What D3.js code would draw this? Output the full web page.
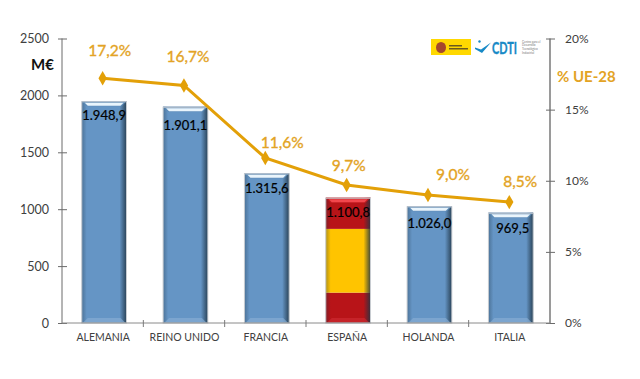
<!DOCTYPE html>
<html>
<head>
<meta charset="utf-8">
<script src="https://cdn.jsdelivr.net/npm/d3@7"></script>
<style>
  html, body { margin: 0; padding: 0; background: #fff; }
  svg { display: block; }
  text { font-family: Lato, "Open Sans", sans-serif; }
</style>
</head>
<body>
<div id="chart"></div>
<script>
// Data
const countries = ["ALEMANIA", "REINO UNIDO", "FRANCIA", "ESPAÑA", "HOLANDA", "ITALIA"];
const millions = [1948.9, 1901.1, 1315.6, 1100.8, 1026.0, 969.5];
const shares = [17.2, 16.7, 11.6, 9.7, 9.0, 8.5];
const millionLabels = ["1.948,9", "1.901,1", "1.315,6", "1.100,8", "1.026,0", "969,5"];
const shareLabels = ["17,2%", "16,7%", "11,6%", "9,7%", "9,0%", "8,5%"];
const leftTicks = [0, 500, 1000, 1500, 2000, 2500];
const rightTicks = [0, 5, 10, 15, 20];
// Spain's bar is painted as the flag, these are the band edges in M€
const spainBands = [267, 827, 1100.8];

// Hand placed label offsets
const shareNudge = [[7, -22], [4, -23], [17, -10], [2, -14], [25, -15], [11, -15]];
const millionNudge = [[0, 19], [0, 23], [0, 20], [0, 19], [0, 22], [2, 20]];

const width = 640, height = 379;
const plotLeft = 62, plotRight = 550, plotTop = 38.5, plotBottom = 323;

const svg = d3.select("#chart").append("svg")
    .attr("width", width)
    .attr("height", height);

const x = d3.scaleBand().domain(countries).range([plotLeft, plotRight])
    .paddingInner(0.45).paddingOuter(0.225).align(0.54);
const y = d3.scaleLinear().domain([0, 2500]).range([plotBottom, plotTop]);
const yShare = d3.scaleLinear().domain([0, 20]).range([plotBottom, plotTop]);

// Gradients for the bevel
const defs = svg.append("defs");
function edgeGradient(id, stops) {
    defs.append("linearGradient").attr("id", id)
        .selectAll("stop").data(stops).join("stop")
        .attr("offset", d => d[0])
        .attr("stop-color", d => d[1])
        .attr("stop-opacity", d => d[2]);
}
edgeGradient("edge-right", [[0, "#1f3444", 0], [1, "#1f3444", 0.85]]);
edgeGradient("edge-left", [[0, "#1f3444", 0.35], [1, "#1f3444", 0]]);

function bevel(g, bx, by, w, h, light, shine, rim) {
    g.append("rect").attr("x", bx).attr("y", by).attr("width", 5).attr("height", h)
        .attr("fill", "url(#edge-left)");
    g.append("rect").attr("x", bx + w - 7).attr("y", by).attr("width", 7).attr("height", h)
        .attr("fill", "url(#edge-right)");
    // top shine and bottom reflection
    g.append("path")
        .attr("d", `M${bx},${by}H${bx + w}L${bx + w - 5},${by + 5}H${bx + 5}Z`)
        .attr("fill", rim);
    g.append("path")
        .attr("d", `M${bx + 3},${by + 1.5}H${bx + w - 3}L${bx + w - 6},${by + 4.5}H${bx + 6}Z`)
        .attr("fill", shine);
    g.append("path")
        .attr("d", `M${bx + 1},${plotBottom}H${bx + w - 1}L${bx + w - 6},${plotBottom - 5}H${bx + 6}Z`)
        .attr("fill", light).attr("opacity", 0.7);
    // outer halo
    g.append("rect").attr("x", bx).attr("y", by + 0.5).attr("width", w).attr("height", h - 0.5)
        .attr("fill", "none").attr("stroke", "#c8ccd1").attr("stroke-width", 1);
}

// Bars
const bars = svg.append("g");
countries.forEach((c, i) => {
    const bx = x(c), w = x.bandwidth(), by = y(millions[i]);
    const g = bars.append("g");
    if (c === "ESPAÑA") {
        const colors = ["#b81418", "#ffc400", "#b81418"];
        spainBands.forEach((v, j) => {
            const y0 = y(j ? spainBands[j - 1] : 0);
            g.append("rect").attr("x", bx).attr("y", y(v)).attr("width", w)
                .attr("height", y0 - y(v)).attr("fill", colors[j]);
        });
        bevel(g, bx, by, w, plotBottom - by, "#cc2a30", "#f2474d", "#c01c22");
    } else {
        g.append("rect").attr("x", bx).attr("y", by).attr("width", w)
            .attr("height", plotBottom - by).attr("fill", "#6595c5");
        bevel(g, bx, by, w, plotBottom - by, "#86acd3", "#eaf5fc", "#5f8db8");
    }
});

// Axes
const axisLeft = svg.append("g")
    .attr("transform", `translate(${plotLeft},0)`)
    .call(d3.axisLeft(y).tickValues(leftTicks).tickFormat(d3.format("d")).tickSize(4).tickPadding(9));
const axisRight = svg.append("g")
    .attr("transform", `translate(${plotRight},0)`)
    .call(d3.axisRight(yShare).tickValues(rightTicks).tickFormat(d => d + "%").tickSize(5).tickPadding(10));
const axisBottom = svg.append("g")
    .attr("transform", `translate(0,${plotBottom})`)
    .call(d3.axisBottom(x).tickSize(0).tickPadding(11));

axisLeft.select(".domain").attr("stroke", "#6b6b6b").attr("d", `M0,${plotTop}V${plotBottom}`);
axisRight.select(".domain").attr("stroke", "#9a9a9a").attr("stroke-width", 2).attr("d", `M0,${plotTop}V${plotBottom}`);
axisBottom.select(".domain").attr("stroke", "#8a8a8a").attr("d", `M${plotLeft},0H${plotRight}`);
axisLeft.selectAll(".tick line").attr("x1", -4).attr("x2", 5).attr("stroke", "#6b6b6b");
axisRight.selectAll(".tick line").attr("x1", -4).attr("x2", 5).attr("stroke", "#6b6b6b");
axisLeft.selectAll("text").attr("font-size", 12.5).attr("fill", "#404040");
axisRight.selectAll("text").attr("font-size", 12).attr("fill", "#404040");
axisBottom.selectAll("text").attr("font-size", 10.5).attr("fill", "#404040");
axisBottom.selectAll(".tick").attr("transform", d => `translate(${x(d) + x.bandwidth() / 2 - 1},0)`);

// Category separators on the x axis
axisBottom.selectAll(".sep")
    .data(countries.slice(1))
    .join("line")
    .attr("class", "sep")
    .attr("x1", (d, i) => plotLeft + x.step() * (i + 1))
    .attr("x2", (d, i) => plotLeft + x.step() * (i + 1))
    .attr("y1", -3).attr("y2", 4)
    .attr("stroke", "#7a7a7a");

// Values inside the bars
svg.append("g").selectAll("text")
    .data(countries)
    .join("text")
    .attr("x", (d, i) => x(d) + x.bandwidth() / 2 + millionNudge[i][0])
    .attr("y", (d, i) => y(millions[i]) + millionNudge[i][1])
    .attr("text-anchor", "middle")
    .attr("font-size", 13)
    .attr("fill", "#000")
    .attr("stroke", "#000")
    .attr("stroke-width", 0.2)
    .text((d, i) => millionLabels[i]);

// Share line, sits a little left of the bar centres like the original
const cx = d => x(d) + x.bandwidth() / 2 - 1.5;
const line = d3.line().x(d => cx(d)).y((d, i) => yShare(shares[i]));
svg.append("path")
    .attr("d", line(countries))
    .attr("fill", "none")
    .attr("stroke", "#e3a008")
    .attr("stroke-width", 3);
svg.append("g").selectAll("path")
    .data(countries)
    .join("path")
    .attr("d", d3.symbol(d3.symbolDiamond, 60))
    .attr("transform", (d, i) => `translate(${cx(d)},${yShare(shares[i])})`)
    .attr("fill", "#e3a008");
svg.append("g").selectAll("text")
    .data(countries)
    .join("text")
    .attr("x", (d, i) => cx(d) + shareNudge[i][0])
    .attr("y", (d, i) => yShare(shares[i]) + shareNudge[i][1])
    .attr("text-anchor", "middle")
    .attr("font-size", 15.5)
    .attr("fill", "#e3a324")
    .attr("stroke", "#e3a324")
    .attr("stroke-width", 0.35)
    .text((d, i) => shareLabels[i]);

// Axis titles
svg.append("text").attr("x", 31).attr("y", 70)
    .attr("font-size", 15).attr("font-weight", 700).attr("fill", "#111").text("M€");
svg.append("text").attr("x", 557).attr("y", 82)
    .attr("font-size", 15).attr("font-weight", 700).attr("fill", "#e3a324").text("% UE-28");

// Logo block in the top right corner
const logo = svg.append("g").attr("transform", "translate(431,39)");
logo.append("rect").attr("width", 40).attr("height", 16).attr("fill", "#ffd800");
logo.append("ellipse").attr("cx", 10).attr("cy", 8.5).attr("rx", 5).attr("ry", 5.5).attr("fill", "#a5482c");
logo.append("rect").attr("x", 18).attr("y", 6).attr("width", 13).attr("height", 1.5).attr("fill", "#6b5a1e");
logo.append("rect").attr("x", 18).attr("y", 9).attr("width", 19).attr("height", 1.5).attr("fill", "#6b5a1e");
logo.append("path").attr("d", "M44,8.5L50,10.5L60,3.5L51,14L44,10Z").attr("fill", "#1789c6");
logo.append("circle").attr("cx", 48.5).attr("cy", 2.5).attr("r", 1.2).attr("fill", "#1789c6");
// squeezed with a transform, textLength leaves the box at full width
logo.append("text").attr("transform", "translate(61,15) scale(0.64,1)")
    .attr("font-size", 17).attr("font-weight", 700)
    .attr("fill", "#1789c6").attr("stroke", "#1789c6").attr("stroke-width", 0.4).text("CDTI");
logo.selectAll(".small")
    .data(["Centro para el", "Desarrollo", "Tecnológico", "Industrial"])
    .join("text")
    .attr("class", "small")
    .attr("x", 91).attr("y", (d, i) => 3.5 + i * 3.9)
    .attr("font-size", 3).attr("fill", "#777")
    .text(d => d);
</script>
</body>
</html>
